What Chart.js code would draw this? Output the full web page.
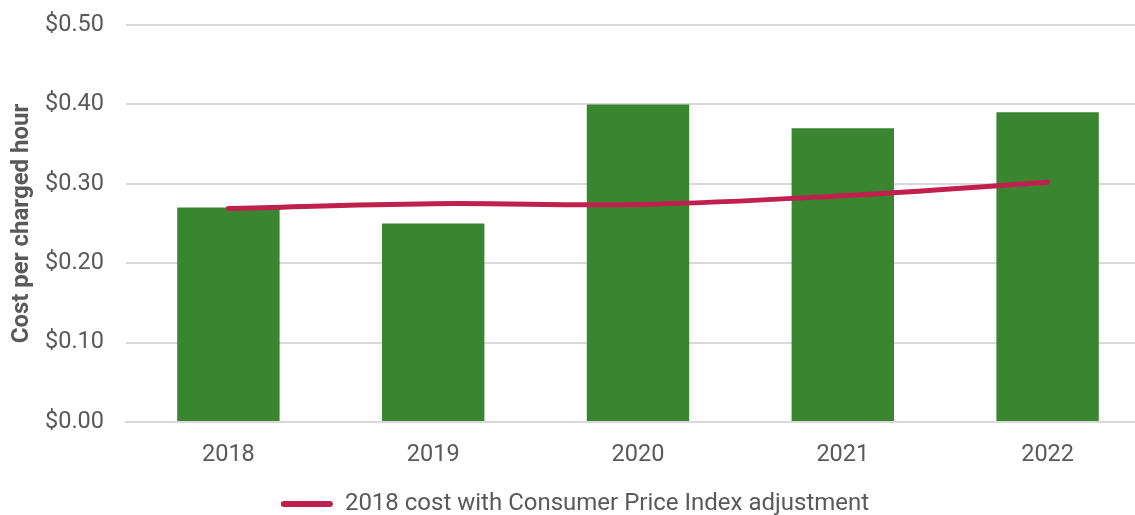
<!DOCTYPE html>
<html>
<head>
<meta charset="utf-8">
<script src="https://cdn.jsdelivr.net/npm/chart.js@4"></script>
<style>
  html, body { margin: 0; padding: 0; overflow: hidden; background: #fff; }
  #wrap { width: 1150px; height: 526px; }
</style>
</head>
<body>
<div id="wrap"><canvas id="myChart"></canvas></div>
<script>
// data
var years = ['2018', '2019', '2020', '2021', '2022'];
var costPerHour = [0.27, 0.25, 0.40, 0.37, 0.39];
var cpiAdjusted = [0.269, 0.275, 0.274, 0.285, 0.302];

var grey = '#595959';
Chart.defaults.font.family = 'Roboto';
Chart.defaults.color = grey;

var ctx = document.getElementById('myChart').getContext('2d');
var chart = new Chart(ctx, {
    type: 'bar',
    data: {
        labels: years,
        datasets: [{
            type: 'line',
            label: '2018 cost with Consumer Price Index adjustment',
            data: cpiAdjusted,
            borderColor: '#C0204D',
            backgroundColor: '#C0204D',
            borderWidth: 5,
            borderCapStyle: 'round',
            tension: 0.4,
            pointRadius: 0,
            order: 0
        }, {
            label: 'Cost per charged hour',
            data: costPerHour,
            backgroundColor: '#3A8530',
            categoryPercentage: 1,
            barPercentage: 0.5,
            order: 1
        }]
    },
    options: {
        responsive: true,
        maintainAspectRatio: false,
        animation: false,
        layout: { padding: 0 },
        plugins: {
            tooltip: { enabled: false },
            legend: {
                position: 'bottom',
                labels: {
                    filter: function (item) { return item.datasetIndex === 0; },
                    generateLabels: function (c) {
                        var items = Chart.defaults.plugins.legend.labels.generateLabels(c);
                        items.forEach(function (it) { it.lineWidth = 0; });
                        return items;
                    },
                    boxWidth: 52,
                    boxHeight: 6,
                    useBorderRadius: true,
                    borderRadius: 3,
                    padding: 0,
                    font: { size: 24 },
                    color: grey
                }
            }
        },
        scales: {
            x: {
                grid: { display: false, drawTicks: false },
                border: { color: '#d9d9d9', width: 2 },
                ticks: { font: { size: 23.5 }, padding: 19, color: grey },
                afterFit: function (axis) { axis.height = 70; }
            },
            y: {
                min: 0,
                max: 0.5,
                ticks: {
                    stepSize: 0.1,
                    padding: 22,
                    font: { size: 23.5 },
                    color: grey,
                    callback: function (v) { return '$' + v.toFixed(2); }
                },
                grid: { color: '#d9d9d9', lineWidth: 2, drawTicks: false },
                border: { display: false },
                title: {
                    display: true,
                    text: 'Cost per charged hour',
                    font: { size: 24, weight: 'bold' },
                    color: grey,
                    padding: { top: 8, bottom: 0 }
                },
                afterFit: function (axis) {
                    axis.width = 126;
                    axis.paddingTop = 25;
                    axis.paddingBottom = 0;
                }
            }
        }
    }
});
</script>
</body>
</html>
